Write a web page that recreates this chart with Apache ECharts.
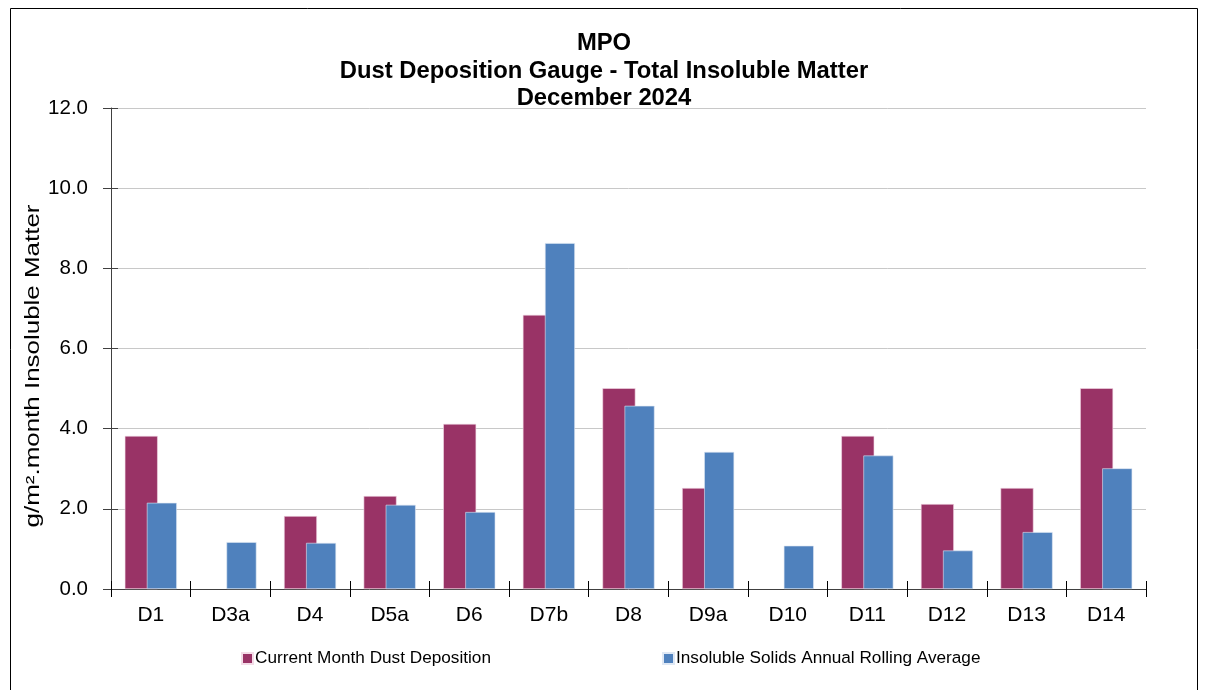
<!DOCTYPE html>
<html>
<head>
<meta charset="utf-8">
<script src="https://cdn.jsdelivr.net/npm/echarts@6/dist/echarts.min.js"></script>
<style>
html,body{margin:0;padding:0;background:#fff;}
#c{width:1208px;height:690px;}
</style>
</head>
<body>
<div id="c"></div>
<script>
const categories = ['D1','D3a','D4','D5a','D6','D7b','D8','D9a','D10','D11','D12','D13','D14'];
const currentMonth = [3.82, null, 1.82, 2.32, 4.12, 6.84, 5.01, 2.52, null, 3.82, 2.12, 2.52, 5.01];
const rollingAverage = [2.15, 1.17, 1.15, 2.10, 1.92, 8.63, 4.57, 3.42, 1.08, 3.33, 0.96, 1.42, 3.01];
const seriesNames = ['Current Month Dust Deposition', 'Insoluble Solids Annual Rolling Average'];
const titleLines = ['MPO', 'Dust Deposition Gauge - Total Insoluble Matter', 'December 2024'];
const yAxisName = 'g/m².month Insoluble Matter';

const FONT = '"Liberation Sans", Arial, sans-serif';
const chart = echarts.init(document.getElementById('c'), null, {renderer: 'canvas'});

const legendBase = {
  top: 650,
  padding: 0,
  itemWidth: 11,
  itemHeight: 11,
  icon: 'rect',
  textStyle: {fontFamily: FONT, fontSize: 17.2, color: '#000', padding: [0, 0, 0, -3]}
};

chart.setOption({
  animation: false,
  backgroundColor: '#fff',
  title: {
    text: titleLines.join('\n'),
    left: 'center',
    top: 25,
    textStyle: {fontFamily: FONT, fontSize: 23.8, fontWeight: 'bold', color: '#000', lineHeight: 27.5}
  },
  graphic: [{
    type: 'rect', shape: {x: 10.5, y: 8.5, width: 1187, height: 700},
    style: {fill: 'none', stroke: '#000', lineWidth: 1}, silent: true, z: 100
  }, {
    type: 'text', x: 34, y: 366, rotation: Math.PI / 2, scaleX: 1.33,
    style: {text: yAxisName, font: '19.5px "Liberation Sans", Arial, sans-serif', fill: '#000',
            textAlign: 'center', textVerticalAlign: 'middle'},
    silent: true
  }],
  legend: [
    Object.assign({}, legendBase, {left: 241, data: [seriesNames[0]]}),
    Object.assign({}, legendBase, {left: 662, data: [seriesNames[1]]})
  ],
  grid: {left: 111, right: 62, top: 108, bottom: 101, containLabel: false},
  xAxis: [{
    type: 'category',
    data: categories,
    axisLine: {lineStyle: {color: '#404040', width: 1}},
    axisTick: {show: true, length: 8, lineStyle: {color: '#000'}},
    axisLabel: {fontFamily: FONT, fontSize: 21, color: '#000', margin: 16}
  }, {
    type: 'category',
    data: categories,
    position: 'bottom',
    axisLine: {show: false},
    axisTick: {show: true, inside: true, length: 8, lineStyle: {color: '#000'}},
    axisLabel: {show: false}
  }],
  yAxis: [{
    type: 'value',
    min: 0, max: 12, interval: 2,
    axisLine: {show: true, lineStyle: {color: '#404040'}},
    axisTick: {show: true, length: 8, lineStyle: {color: '#404040'}},
    axisLabel: {fontFamily: FONT, fontSize: 20.5, color: '#000', margin: 23, formatter: v => v.toFixed(1)},
    splitLine: {lineStyle: {color: '#c8c8c8', width: 1}}
  }, {
    type: 'value',
    min: 0, max: 12, interval: 2,
    position: 'left',
    axisLine: {show: false},
    axisTick: {show: true, inside: true, length: 7, lineStyle: {color: '#404040'}},
    axisLabel: {show: false},
    splitLine: {show: false}
  }],
  series: [{
    name: seriesNames[0],
    type: 'bar',
    data: currentMonth,
    barWidth: 33,
    barGap: '-33%',
    itemStyle: {color: '#993366', borderColor: '#f3dce7', borderWidth: 0.6},
    z: 2
  }, {
    name: seriesNames[1],
    type: 'bar',
    data: rollingAverage,
    barWidth: 30,
    itemStyle: {color: '#4f81bd', borderColor: '#dfe8f4', borderWidth: 0.6},
    z: 3
  }]
});
</script>
</body>
</html>
